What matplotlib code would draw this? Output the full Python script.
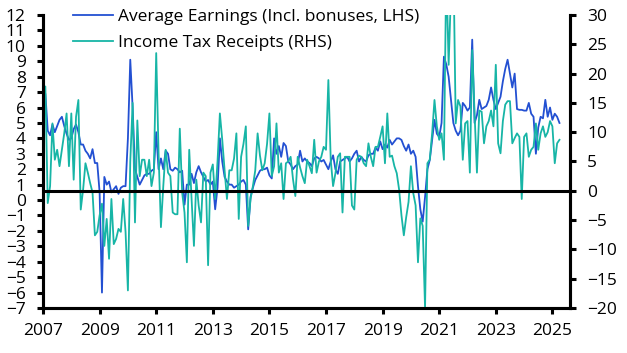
import matplotlib.pyplot as plt
import numpy as np

plt.rcParams['font.family'] = ['Open Sans', 'DejaVu Sans']

# monthly, Jan 2007 - Apr 2025 (% y/y)
earnings = [
    5.9, 6.9, 4.5, 4.2, 4.9, 4.4, 4.8, 5.2, 5.4, 4.8, 4.3, 3.9,      # 2007
    4.0, 4.6, 4.9, 4.4, 3.6, 3.6, 3.2, 3.0, 2.7, 3.3, 2.4, 2.4,      # 2008
    0.5, -6.0, 1.5, 1.0, 1.2, 0.5, 0.7, 0.9, 0.4, 0.8, 0.9, 0.9,     # 2009
    4.0, 9.1, 6.0, 2.0, 1.5, 1.0, 1.3, 1.6, 1.7, 1.7, 1.9, 2.0,      # 2010
    4.4, 2.0, 2.7, 2.0, 3.2, 3.0, 2.0, 1.9, 2.1, 2.0, 1.8, 1.9,      # 2011
    -0.3, 1.0, 1.0, 1.7, 1.1, 1.8, 2.2, 1.8, 1.5, 1.2, 1.3, 1.0,     # 2012
    1.2, -0.6, 0.8, 4.0, 2.5, 1.5, 1.2, 1.0, 1.0, 0.8, 0.9, 1.0,     # 2013
    1.2, 1.3, 1.0, -1.9, 0.2, 0.8, 1.3, 1.6, 1.9, 2.0, 2.0, 2.1,     # 2014
    1.6, 1.4, 4.0, 3.0, 3.5, 2.8, 3.7, 3.5, 2.5, 2.3, 2.0, 2.2,      # 2015
    2.3, 3.2, 2.5, 2.7, 2.5, 2.4, 2.2, 2.7, 2.8, 2.7, 2.5, 2.6,      # 2016
    2.3, 2.0, 2.5, 2.9, 2.0, 1.7, 2.5, 2.6, 2.7, 2.8, 2.5, 2.7,      # 2017
    3.0, 3.2, 2.5, 2.8, 2.6, 2.5, 2.9, 3.0, 3.0, 3.4, 3.2, 3.8,      # 2018
    3.3, 3.6, 3.4, 3.9, 3.6, 3.8, 4.0, 4.0, 3.9, 3.5, 3.2, 3.6,      # 2019
    3.0, 3.2, 2.8, 0.9, -0.6, -1.4, 0.2, 2.0, 2.6, 3.9, 5.2, 4.3,    # 2020
    4.1, 5.0, 9.3, 8.8, 8.0, 6.5, 5.0, 4.5, 4.2, 4.5, 6.3, 6.1,      # 2021
    5.8, 6.0, 10.4, 5.0, 5.5, 6.5, 5.9, 6.0, 6.1, 6.5, 7.3, 6.5,     # 2022
    5.9, 6.3, 6.7, 7.7, 8.5, 9.1, 8.2, 7.3, 8.2, 5.9, 5.85, 5.85,    # 2023
    5.8, 5.8, 6.3, 5.6, 5.4, 3.0, 4.7, 5.4, 5.3, 6.5, 5.4, 6.0,      # 2024
    5.2, 5.6, 5.4, 5.0,                                              # 2025
]

tax_receipts = [
    11, 17.8, -2.1, 0.8, 11.5, 5.3, 7, 4.2, 7, 9.8, 13.2, 4.2,            # 2007
    13.2, 1.9, 12.6, 15.5, -3.2, 0.2, 4.7, 3.1, 1.3, -0.3, -7.6, -7,      # 2008
    -4.2, -2.2, -9.4, -4.8, -11.6, -1.4, -9.1, -8.2, -6.5, -7, -1.4, -7,  # 2009
    -17, 5, 15, -5.4, 12, 2.5, 5.3, 5.3, 2.5, 5.3, 0.8, 3.1,              # 2010
    23.5, 6.4, -6.2, 0.8, 7, 3.1, 2.5, -3.7, -4, -4, 10.6, -0.3,          # 2011
    -3.7, -12.2, 7, -1.4, -9.4, 1.9, -2.5, -5.4, 3.1, 2.5, -12.7, 3.1,    # 2012
    4.5, -1.4, 5, 13.2, 8.7, 3.5, -1.4, 3.5, 3.5, 5.5, 9.8, -4.8,         # 2013
    5.8, 8, 11, -6, -1.4, 0.8, 3.5, 9.8, 6, 3.5, 4.7, 8,                  # 2014
    13.2, 2.5, 4.2, 11.5, 3.1, 4.7, -1.4, 4.7, 5, 5.8, 2, -0.9,           # 2015
    5.8, 4, 2.5, 1.3, 5.3, 4.2, 3, 8.7, 3.1, 5, 5.8, 7.5,                 # 2016
    7, 18.9, 5.3, 0.8, 3, 5.8, 6.4, -3.7, 5.8, 5.8, 5.8, -2.5,            # 2017
    -3.2, 5.3, 6, 5.8, 4.7, 4.2, 8.1, 5.8, 4.2, 7.5, 7.5, 9.2,            # 2018
    11, 4.7, 13.2, 5.8, 6, 4.2, 3, 0.2, -4.2, -7.6, -4.5, -1.9,           # 2019
    4.2, -0.4, -2.5, -12.2, -4.7, -6, -20, 4.7, 5.3, 9.8, 15.5, 11,       # 2020
    8.7, 9.8, 5.3, 38, 21.5, 34, 40, 11.5, 15.5, 14.4, 5.3, 11.5,         # 2021
    11.9, 3.1, 24, 13.2, 3.1, 13.7, 13.5, 8.1, 11, 11.9, 13.7, 11,        # 2022
    21.5, 8.1, 6.4, 11.9, 14.7, 15.3, 15.3, 8.1, 9, 9.8, 9.2, -1.4,       # 2023
    9.2, 9.8, 5.8, 7, 7.5, 11.5, 7, 9.8, 11, 9.2, 10, 11.9,               # 2024
    11, 4.7, 8.1, 8.7,                                                    # 2025
]

year_ticks = [2007, 2009, 2011, 2013, 2015, 2017, 2019, 2021, 2023, 2025]

t = 2007 + np.arange(len(earnings)) / 12

blue = '#2350D2'
teal = '#17B5A6'

fig = plt.figure(figsize=(6.27, 3.53), dpi=100)
ax = fig.add_axes([0.0686, 0.1275, 0.8404, 0.83])
ax2 = ax.twinx()

l1, = ax.plot(t, earnings, color=blue, lw=1.3, label='Average Earnings (Incl. bonuses, LHS)')
l2, = ax2.plot(t, tax_receipts, color=teal, lw=1.3, label='Income Tax Receipts (RHS)')
ax2.axhline(0, color='black', lw=2.2, zorder=5)

ax.set_xlim(2007, 2025.62)
ax.set_ylim(-7, 12)
ax2.set_ylim(-20, 30)
ax.set_yticks(range(-7, 13))
ax2.set_yticks(range(-20, 31, 5))
ax.set_xticks(year_ticks)
ax.set_xticklabels([str(y) for y in year_ticks])

for a in (ax, ax2):
    a.spines['top'].set_visible(False)
    for s in ('left', 'right', 'bottom'):
        a.spines[s].set_linewidth(2.2)
    a.tick_params(width=2.2, length=4.5, labelsize=12.5, colors='black')
ax.tick_params(axis='y', pad=8)
ax2.tick_params(axis='y', pad=8)
ax.tick_params(axis='x', pad=6)

fig.legend(handles=[l1, l2], loc='upper left', bbox_to_anchor=(0.117, 0.975),
           frameon=False, fontsize=12.5, handlelength=2.3, handletextpad=0.3,
           borderpad=0, borderaxespad=0, labelspacing=0.55)

plt.savefig('out.png', dpi=100)
